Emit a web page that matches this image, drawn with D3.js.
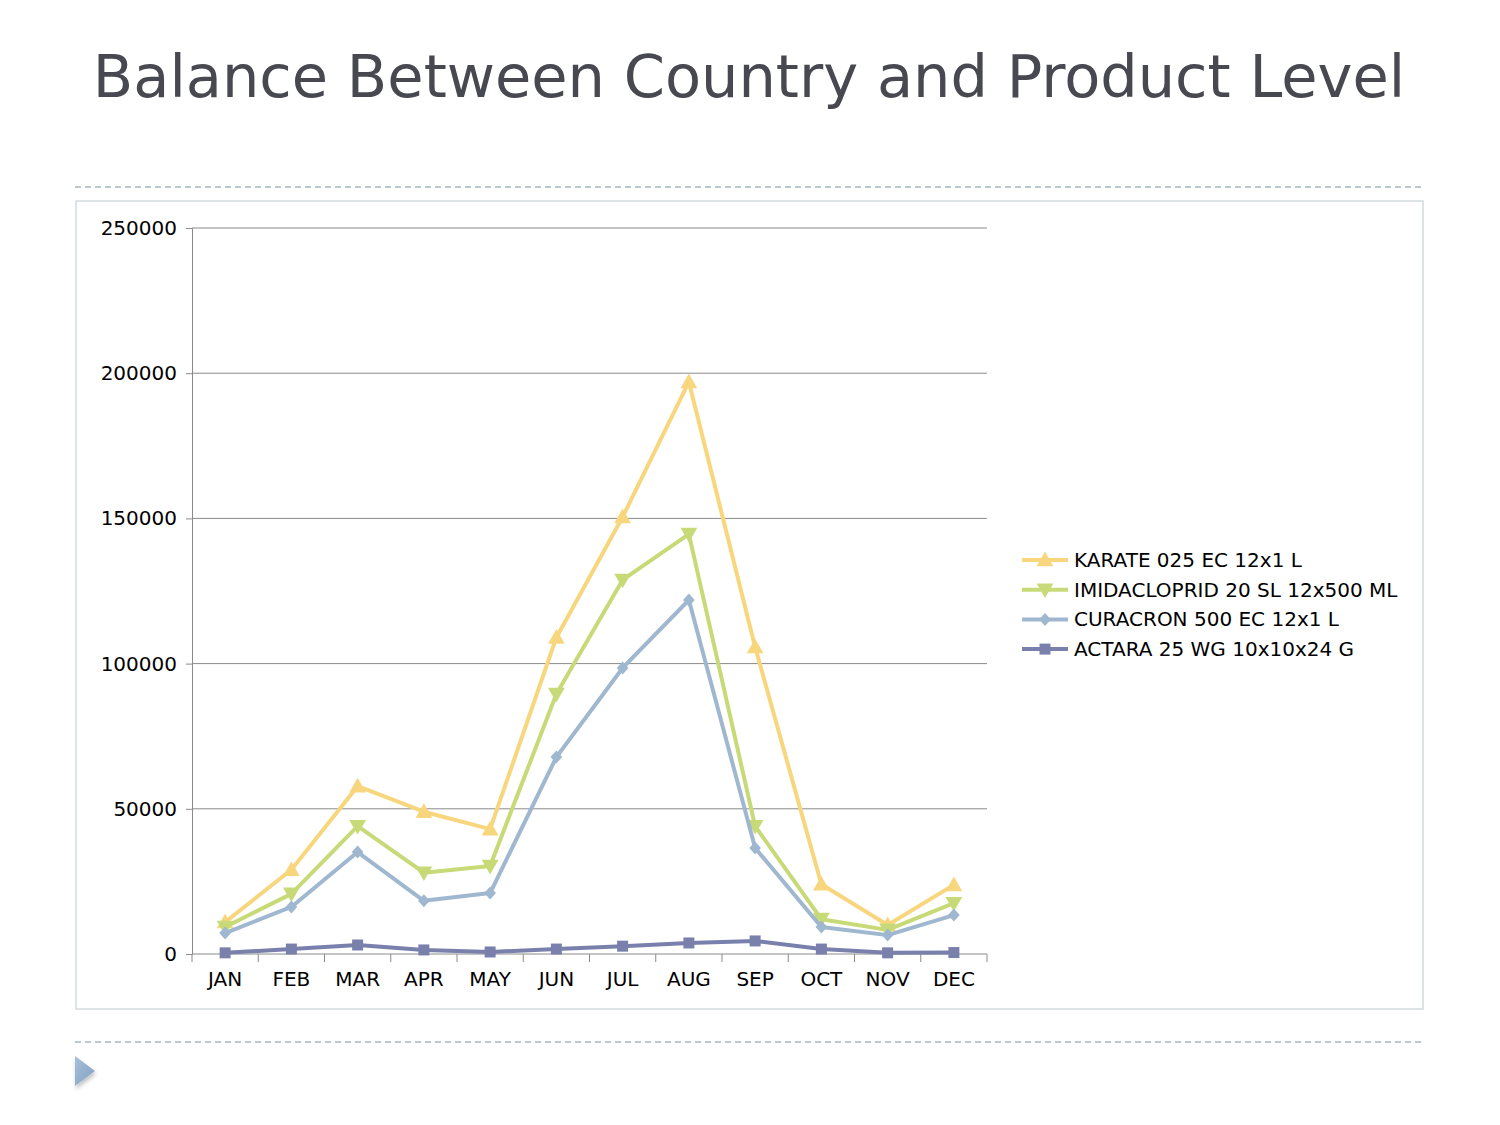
<!DOCTYPE html>
<html><head><meta charset="utf-8">
<script src="https://cdn.jsdelivr.net/npm/d3@7"></script>
<style>body{margin:0;background:#fff}svg{display:block;font-family:"DejaVu Sans",sans-serif}</style>
</head><body>
<svg id="chart" width="1500" height="1125"></svg>
<script>
const months = ["JAN","FEB","MAR","APR","MAY","JUN","JUL","AUG","SEP","OCT","NOV","DEC"];
const seriesNames = ["KARATE 025 EC 12x1 L","IMIDACLOPRID 20 SL 12x500 ML","CURACRON 500 EC 12x1 L","ACTARA 25 WG 10x10x24 G"];
const karate = [11000,29000,57800,49000,43000,109000,150500,197000,105700,24000,10000,23800];
const imidacloprid = [9300,20700,44000,28000,30300,89500,128800,144600,44000,12000,8300,17500];
const curacron = [7200,16200,35100,18300,21000,67800,98500,121900,36500,9300,6500,13400];
const actara = [400,1700,3100,1400,700,1700,2700,3800,4500,1700,400,500];
const yTicks = [0,50000,100000,150000,200000,250000];

const seriesData = [karate, imidacloprid, curacron, actara];
const colors = ["#F8D67E","#C8DA78","#9FB7CF","#7980AC"];
const symbols = ["up","down","diamond","square"];

const svg = d3.select("#chart");

// title
svg.append("text").attr("x",749).attr("y",97).attr("text-anchor","middle")
  .attr("font-size",59).attr("fill","#474850").text("Balance Between Country and Product Level");

// dashed separators
[187,1042].forEach(y=>svg.append("line").attr("x1",75).attr("x2",1425).attr("y1",y).attr("y2",y)
  .attr("stroke","#A8B6BE").attr("stroke-width",1.3).attr("stroke-dasharray","6,4"));

// chart frame
svg.append("rect").attr("x",76).attr("y",201).attr("width",1347).attr("height",808)
  .attr("fill","#fff").attr("stroke","#D3DADD").attr("stroke-width",1.5);

const x = d3.scaleBand().domain(months).range([192,987]);
const y = d3.scaleLinear().domain([0,250000]).range([954,228]);

// gridlines
svg.append("g").selectAll("line").data(yTicks.filter(d=>d>0)).join("line")
  .attr("x1",192).attr("x2",987).attr("y1",d=>y(d)).attr("y2",d=>y(d))
  .attr("stroke","#8A8A8A").attr("stroke-width",1);

// y axis
const yAxis = svg.append("g").attr("transform","translate(192,0)")
  .call(d3.axisLeft(y).tickValues(yTicks).tickSize(6).tickPadding(9).tickFormat(d3.format("d")));
yAxis.select(".domain").attr("stroke","#8A8A8A");
yAxis.selectAll(".tick line").attr("stroke","#8A8A8A");
yAxis.selectAll("text").attr("font-size",20).attr("fill","#000").attr("font-family","DejaVu Sans");

// x axis
const xAxis = svg.append("g").attr("transform","translate(0,954)")
  .call(d3.axisBottom(x).tickSize(0).tickPadding(18));
xAxis.select(".domain").attr("stroke","#8A8A8A").attr("d","M192,0H987");
xAxis.selectAll("text").attr("font-size",20).attr("fill","#000").attr("font-family","DejaVu Sans");
const bounds = months.map(m=>x(m)).concat([987]);
svg.append("g").selectAll("line").data(bounds).join("line")
  .attr("x1",d=>d).attr("x2",d=>d).attr("y1",954).attr("y2",962)
  .attr("stroke","#8A8A8A");

function markerPath(type, s){
  if(type==="up") return `M0,${-s*0.6}L${s*0.6},${s*0.45}L${-s*0.6},${s*0.45}Z`;
  if(type==="down") return `M0,${s*0.6}L${s*0.6},${-s*0.45}L${-s*0.6},${-s*0.45}Z`;
  if(type==="diamond") return `M0,${-s*0.5}L${s*0.45},0L0,${s*0.5}L${-s*0.45},0Z`;
  return `M${-s*0.5},${-s*0.5}H${s*0.5}V${s*0.5}H${-s*0.5}Z`;
}
const mSize = [14,14,13,11];

const line = d3.line().x((d,i)=>x(months[i])+x.bandwidth()/2).y(d=>y(d));
seriesData.forEach((vals,si)=>{
  const g = svg.append("g");
  g.append("path").datum(vals).attr("d",line).attr("fill","none")
    .attr("stroke",colors[si]).attr("stroke-width",4).attr("stroke-linejoin","round");
  g.selectAll("path.m").data(vals).join("path").attr("class","m")
    .attr("transform",(d,i)=>`translate(${x(months[i])+x.bandwidth()/2},${y(d)})`)
    .attr("d",markerPath(symbols[si],mSize[si])).attr("fill",colors[si]);
});

// legend
const lg = svg.append("g");
seriesNames.forEach((n,i)=>{
  const yy = 560 + i*29.7;
  lg.append("line").attr("x1",1022).attr("x2",1068).attr("y1",yy).attr("y2",yy)
    .attr("stroke",colors[i]).attr("stroke-width",4);
  lg.append("path").attr("transform",`translate(1045,${yy})`).attr("d",markerPath(symbols[i],mSize[i])).attr("fill",colors[i]);
  lg.append("text").attr("x",1074).attr("y",yy+7).attr("font-size",20).attr("fill","#000").text(n);
});

// bottom triangle bullet
const defs = svg.append("defs");
const gr = defs.append("linearGradient").attr("id","tg").attr("x1","0").attr("y1","0").attr("x2","1").attr("y2","1");
gr.append("stop").attr("offset","0").attr("stop-color","#A9C1DB");
gr.append("stop").attr("offset","1").attr("stop-color","#7F9EC0");
const f = defs.append("filter").attr("id","sh").attr("x","-50%").attr("y","-50%").attr("width","200%").attr("height","200%");
f.append("feDropShadow").attr("dx",1).attr("dy",3).attr("stdDeviation",2).attr("flood-color","#000").attr("flood-opacity",0.25);
svg.append("path").attr("d","M75,1056L95,1071L75,1086Z").attr("fill","url(#tg)").attr("filter","url(#sh)");
</script>
</body></html>
